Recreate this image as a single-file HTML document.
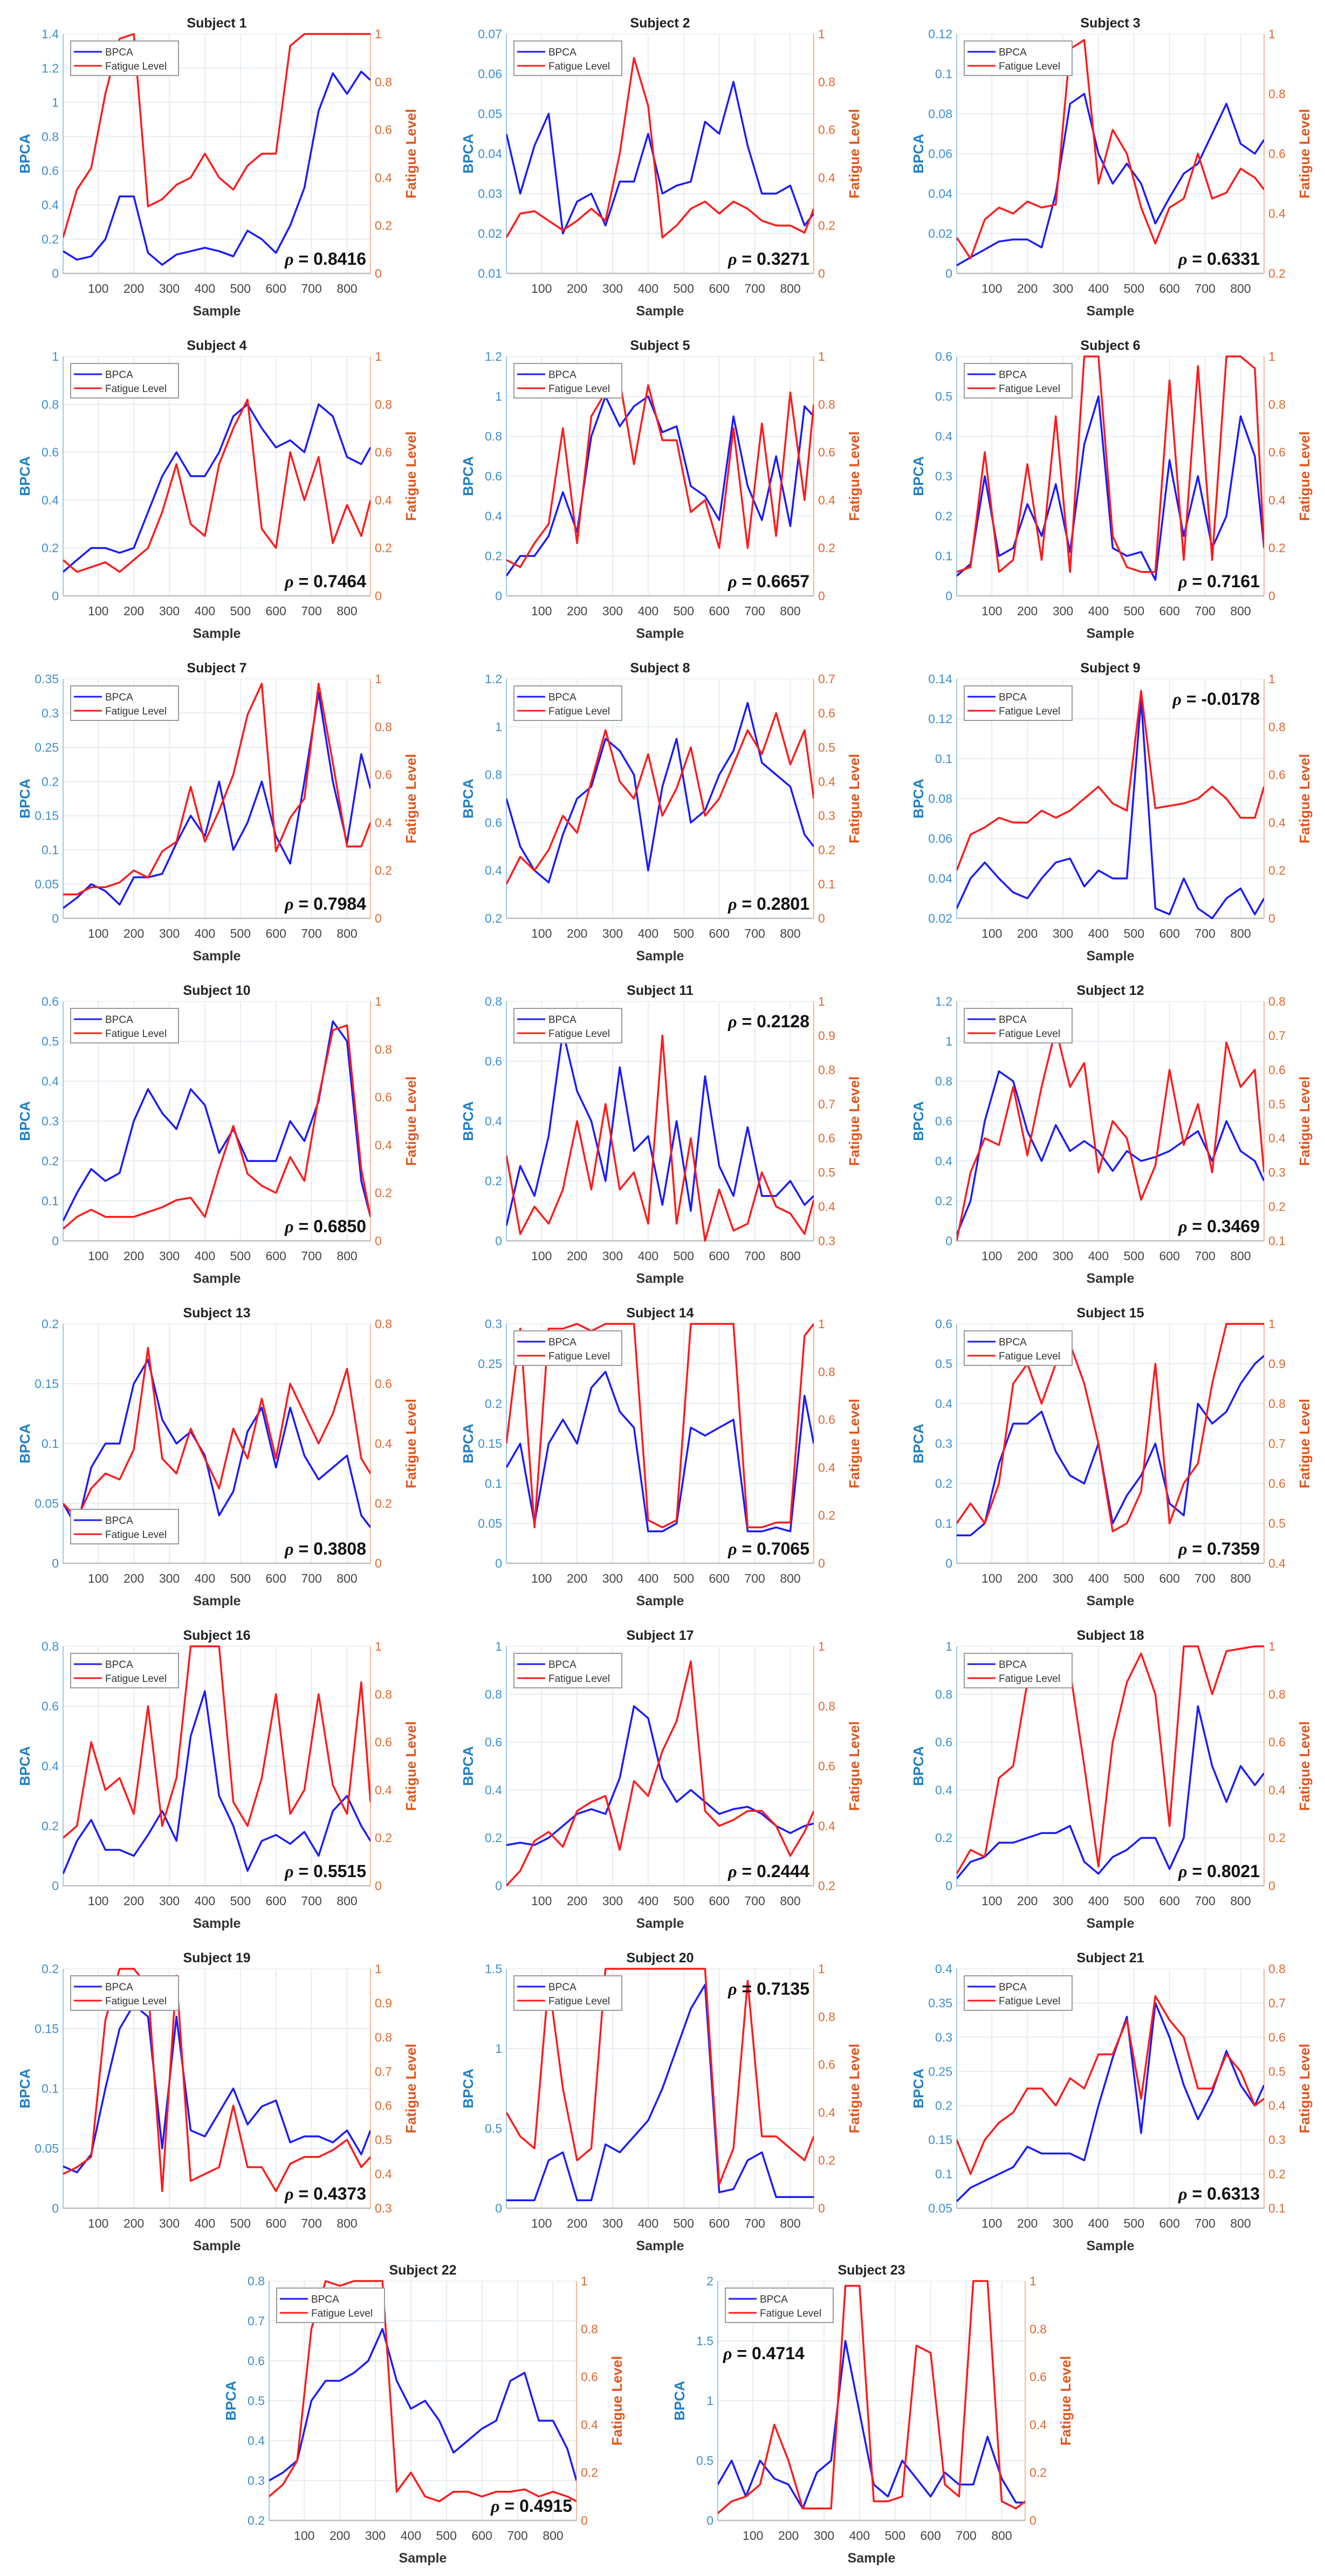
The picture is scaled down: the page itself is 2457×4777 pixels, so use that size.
<!DOCTYPE html>
<html><head><meta charset="utf-8"><title>BPCA vs Fatigue Level</title>
<style>
html,body{margin:0;padding:0;background:#fff;}
svg{display:block;font-family:"Liberation Sans",Arial,sans-serif;}
</style></head>
<body>
<svg id="fig" width="2457" height="4777" viewBox="0 0 2457 4777" xmlns="http://www.w3.org/2000/svg"></svg>
<script>
const sampleGrid = [1,40,80,120,160,200,240,280,320,360,400,440,480,520,560,600,640,680,720,760,800,840,866];
const xTicks = [100,200,300,400,500,600,700,800];

const s1Bpca=[.13,.08,.1,.2,.45,.45,.12,.05,.11,.13,.15,.13,.1,.25,.2,.12,.28,.5,.95,1.17,1.05,1.18,1.13];
const s1Fat=[.15,.35,.44,.75,.98,1,.28,.31,.37,.4,.5,.4,.35,.45,.5,.5,.95,1,1,1,1,1,1];
const s2Bpca=[.045,.03,.042,.05,.02,.028,.03,.022,.033,.033,.045,.03,.032,.033,.048,.045,.058,.042,.03,.03,.032,.022,.025];
const s2Fat=[.15,.25,.26,.22,.18,.22,.27,.22,.5,.9,.7,.15,.2,.27,.3,.25,.3,.27,.22,.2,.2,.17,.27];
const s3Bpca=[.004,.008,.012,.016,.017,.017,.013,.04,.085,.09,.06,.045,.055,.045,.025,.038,.05,.055,.07,.085,.065,.06,.067];
const s3Fat=[.32,.25,.38,.42,.4,.44,.42,.43,.95,.98,.5,.68,.6,.42,.3,.42,.45,.6,.45,.47,.55,.52,.48];
const s4Bpca=[.1,.15,.2,.2,.18,.2,.35,.5,.6,.5,.5,.6,.75,.8,.7,.62,.65,.6,.8,.75,.58,.55,.62];
const s4Fat=[.15,.1,.12,.14,.1,.15,.2,.35,.55,.3,.25,.55,.7,.82,.28,.2,.6,.4,.58,.22,.38,.25,.4];
const s5Bpca=[.1,.2,.2,.3,.52,.32,.8,1,.85,.95,1,.82,.85,.55,.5,.38,.9,.55,.38,.7,.35,.95,.9];
const s5Fat=[.15,.12,.22,.3,.7,.22,.75,.85,.9,.55,.88,.65,.65,.35,.4,.2,.7,.2,.72,.25,.85,.4,.8];
const s6Bpca=[.05,.08,.3,.1,.12,.23,.15,.28,.11,.38,.5,.12,.1,.11,.04,.34,.15,.3,.12,.2,.45,.35,.12];
const s6Fat=[.1,.12,.6,.1,.15,.55,.15,.75,.1,1,1,.25,.12,.1,.1,.9,.15,.96,.15,1,1,.95,.2];
const s7Bpca=[.015,.03,.05,.04,.02,.06,.06,.065,.11,.15,.12,.2,.1,.14,.2,.12,.08,.2,.33,.2,.11,.24,.19];
const s7Fat=[.1,.1,.13,.13,.15,.2,.17,.28,.32,.55,.32,.45,.6,.85,.98,.28,.42,.5,.98,.65,.3,.3,.4];
const s8Bpca=[.7,.5,.4,.35,.55,.7,.75,.95,.9,.8,.4,.75,.95,.6,.65,.8,.9,1.1,.85,.8,.75,.55,.5];
const s8Fat=[.1,.18,.14,.2,.3,.25,.4,.55,.4,.35,.48,.3,.38,.5,.3,.35,.45,.55,.48,.6,.45,.55,.35];
const s9Bpca=[.025,.04,.048,.04,.033,.03,.04,.048,.05,.036,.044,.04,.04,.13,.025,.022,.04,.025,.02,.03,.035,.022,.03];
const s9Fat=[.2,.35,.38,.42,.4,.4,.45,.42,.45,.5,.55,.48,.45,.95,.46,.47,.48,.5,.55,.5,.42,.42,.55];
const s10Bpca=[.05,.12,.18,.15,.17,.3,.38,.32,.28,.38,.34,.22,.28,.2,.2,.2,.3,.25,.35,.55,.5,.15,.06];
const s10Fat=[.05,.1,.13,.1,.1,.1,.12,.14,.17,.18,.1,.3,.48,.28,.23,.2,.35,.25,.6,.88,.9,.3,.1];
const s11Bpca=[.05,.25,.15,.35,.7,.5,.4,.2,.58,.3,.35,.12,.4,.1,.55,.25,.15,.38,.15,.15,.2,.12,.15];
const s11Fat=[.55,.32,.4,.35,.45,.65,.45,.7,.45,.5,.35,.9,.35,.6,.3,.45,.33,.35,.5,.4,.38,.32,.42];
const s12Bpca=[.03,.2,.6,.85,.8,.55,.4,.58,.45,.5,.45,.35,.45,.4,.42,.45,.5,.55,.4,.6,.45,.4,.3];
const s12Fat=[.1,.3,.4,.38,.55,.35,.55,.72,.55,.62,.3,.45,.4,.22,.32,.6,.38,.5,.3,.68,.55,.6,.3];
const s13Bpca=[.05,.03,.08,.1,.1,.15,.17,.12,.1,.11,.09,.04,.06,.11,.13,.08,.13,.09,.07,.08,.09,.04,.03];
const s13Fat=[.2,.15,.25,.3,.28,.38,.72,.35,.3,.45,.35,.25,.45,.35,.55,.35,.6,.5,.4,.5,.65,.35,.3];
const s14Bpca=[.12,.15,.05,.15,.18,.15,.22,.24,.19,.17,.04,.04,.05,.17,.16,.17,.18,.04,.04,.045,.04,.21,.15];
const s14Fat=[.5,.98,.15,.98,.98,1,.97,1,1,1,.18,.15,.18,1,1,1,1,.15,.15,.17,.17,.95,1];
const s15Bpca=[.07,.07,.1,.25,.35,.35,.38,.28,.22,.2,.3,.1,.17,.22,.3,.15,.12,.4,.35,.38,.45,.5,.52];
const s15Fat=[.5,.55,.5,.6,.85,.9,.8,.9,.95,.85,.7,.48,.5,.58,.9,.5,.6,.65,.85,1,1,1,1];
const s16Bpca=[.04,.15,.22,.12,.12,.1,.17,.25,.15,.5,.65,.3,.2,.05,.15,.17,.14,.18,.1,.25,.3,.2,.15];
const s16Fat=[.2,.25,.6,.4,.45,.3,.75,.25,.45,1,1,1,.35,.25,.45,.8,.3,.4,.8,.42,.3,.85,.35];
const s17Bpca=[.17,.18,.17,.2,.25,.3,.32,.3,.45,.75,.7,.45,.35,.4,.35,.3,.32,.33,.3,.25,.22,.25,.26];
const s17Fat=[.2,.25,.35,.38,.33,.45,.48,.5,.32,.55,.5,.65,.75,.95,.45,.4,.42,.45,.45,.4,.3,.38,.45];
const s18Bpca=[.03,.1,.12,.18,.18,.2,.22,.22,.25,.1,.05,.12,.15,.2,.2,.07,.2,.75,.5,.35,.5,.42,.47];
const s18Fat=[.05,.15,.12,.45,.5,.85,.9,.85,.9,.5,.08,.6,.85,.97,.8,.25,1,1,.8,.98,.99,1,1];
const s19Bpca=[.035,.03,.045,.1,.15,.17,.16,.05,.16,.065,.06,.08,.1,.07,.085,.09,.055,.06,.06,.055,.065,.045,.065];
const s19Fat=[.4,.42,.45,.85,1,1,.95,.35,.98,.38,.4,.42,.6,.42,.42,.35,.43,.45,.45,.47,.5,.42,.45];
const s20Bpca=[.05,.05,.05,.3,.35,.05,.05,.4,.35,.45,.55,.75,1,1.25,1.4,.1,.12,.3,.35,.07,.07,.07,.07];
const s20Fat=[.4,.3,.25,.95,.5,.2,.25,1,1,1,1,1,1,1,1,.1,.25,.95,.3,.3,.25,.2,.3];
const s21Bpca=[.06,.08,.09,.1,.11,.14,.13,.13,.13,.12,.2,.27,.33,.16,.35,.3,.23,.18,.22,.28,.23,.2,.23];
const s21Fat=[.3,.2,.3,.35,.38,.45,.45,.4,.48,.45,.55,.55,.65,.42,.72,.65,.6,.45,.45,.55,.5,.4,.42];
const s22Bpca=[.3,.32,.35,.5,.55,.55,.57,.6,.68,.55,.48,.5,.45,.37,.4,.43,.45,.55,.57,.45,.45,.38,.3];
const s22Fat=[.1,.15,.25,.8,1,.98,1,1,1,.12,.2,.1,.08,.12,.12,.1,.12,.12,.13,.1,.12,.1,.08];
const s23Bpca=[.3,.5,.2,.5,.35,.3,.1,.4,.5,1.5,.9,.3,.2,.5,.35,.2,.4,.3,.3,.7,.35,.15,.15];
const s23Fat=[.03,.08,.1,.15,.4,.25,.05,.05,.05,.98,.98,.08,.08,.1,.73,.7,.15,.1,1,1,.08,.05,.08];

const rhoValues=["0.8416","0.3271","0.6331","0.7464","0.6657","0.7161","0.7984","0.2801","-0.0178","0.6850","0.2128","0.3469","0.3808","0.7065","0.7359","0.5515","0.2444","0.8021","0.4373","0.7135","0.6313","0.4915","0.4714"];
const leftTickLabels=[
["0","0.2","0.4","0.6","0.8","1","1.2","1.4"],["0.01","0.02","0.03","0.04","0.05","0.06","0.07"],["0","0.02","0.04","0.06","0.08","0.1","0.12"],
["0","0.2","0.4","0.6","0.8","1"],["0","0.2","0.4","0.6","0.8","1","1.2"],["0","0.1","0.2","0.3","0.4","0.5","0.6"],
["0","0.05","0.1","0.15","0.2","0.25","0.3","0.35"],["0.2","0.4","0.6","0.8","1","1.2"],["0.02","0.04","0.06","0.08","0.1","0.12","0.14"],
["0","0.1","0.2","0.3","0.4","0.5","0.6"],["0","0.2","0.4","0.6","0.8"],["0","0.2","0.4","0.6","0.8","1","1.2"],
["0","0.05","0.1","0.15","0.2"],["0","0.05","0.1","0.15","0.2","0.25","0.3"],["0","0.1","0.2","0.3","0.4","0.5","0.6"],
["0","0.2","0.4","0.6","0.8"],["0","0.2","0.4","0.6","0.8","1"],["0","0.2","0.4","0.6","0.8","1"],
["0","0.05","0.1","0.15","0.2"],["0","0.5","1","1.5"],["0.05","0.1","0.15","0.2","0.25","0.3","0.35","0.4"],
["0.2","0.3","0.4","0.5","0.6","0.7","0.8"],["0","0.5","1","1.5","2"]];
const rightTickLabels=[
["0","0.2","0.4","0.6","0.8","1"],["0","0.2","0.4","0.6","0.8","1"],["0.2","0.4","0.6","0.8","1"],
["0","0.2","0.4","0.6","0.8","1"],["0","0.2","0.4","0.6","0.8","1"],["0","0.2","0.4","0.6","0.8","1"],
["0","0.2","0.4","0.6","0.8","1"],["0","0.1","0.2","0.3","0.4","0.5","0.6","0.7"],["0","0.2","0.4","0.6","0.8","1"],
["0","0.2","0.4","0.6","0.8","1"],["0.3","0.4","0.5","0.6","0.7","0.8","0.9","1"],["0.1","0.2","0.3","0.4","0.5","0.6","0.7","0.8"],
["0","0.2","0.4","0.6","0.8"],["0","0.2","0.4","0.6","0.8","1"],["0.4","0.5","0.6","0.7","0.8","0.9","1"],
["0","0.2","0.4","0.6","0.8","1"],["0.2","0.4","0.6","0.8","1"],["0","0.2","0.4","0.6","0.8","1"],
["0.3","0.4","0.5","0.6","0.7","0.8","0.9","1"],["0","0.2","0.4","0.6","0.8","1"],["0.1","0.2","0.3","0.4","0.5","0.6","0.7","0.8"],
["0","0.2","0.4","0.6","0.8","1"],["0","0.2","0.4","0.6","0.8","1"]];
const bpcaSeries=[s1Bpca,s2Bpca,s3Bpca,s4Bpca,s5Bpca,s6Bpca,s7Bpca,s8Bpca,s9Bpca,s10Bpca,s11Bpca,s12Bpca,s13Bpca,s14Bpca,s15Bpca,s16Bpca,s17Bpca,s18Bpca,s19Bpca,s20Bpca,s21Bpca,s22Bpca,s23Bpca];
const fatigueSeries=[s1Fat,s2Fat,s3Fat,s4Fat,s5Fat,s6Fat,s7Fat,s8Fat,s9Fat,s10Fat,s11Fat,s12Fat,s13Fat,s14Fat,s15Fat,s16Fat,s17Fat,s18Fat,s19Fat,s20Fat,s21Fat,s22Fat,s23Fat];
const rhoPos=["br","br","br","br","br","br","br","br","tr","br","tr","br","br","br","br","br","br","br","br","tr","br","br","tl"];
const legendPos=["tl","tl","tl","tl","tl","tl","tl","tl","tl","tl","tl","tl","bl","tl","tl","tl","tl","tl","tl","tl","tl","tl","tl"];

const NS="http://www.w3.org/2000/svg";
const svg=document.getElementById('fig');
function mk(tag,attrs,parent,text){const e=document.createElementNS(NS,tag);for(const k in attrs)e.setAttribute(k,attrs[k]);if(text!==undefined)e.textContent=text;parent.appendChild(e);return e;}
const W=570,H=444,X0=1,X1=866;
const LBLUE="#3d8fcf",ORANGE="#e2682f";

function layout(i){
  if(i<21){const r=Math.floor(i/3),c=i%3;return {L:[117,939,1774][c],T:63+r*598};}
  return {L:[499,1331][i-21],T:4230};
}

for(let i=0;i<23;i++){
  const {L,T}=layout(i);const R=L+W,B=T+H;
  const g=mk('g',{},svg);
  
  
  const lt=leftTickLabels[i].map(Number),rt=rightTickLabels[i].map(Number);
  const lmin=lt[0],lmax=lt[lt.length-1],rmin=rt[0],rmax=rt[rt.length-1];
  const xs=v=>L+(v-X0)/(X1-X0)*W;
  const yl=v=>B-(v-lmin)/(lmax-lmin)*H;
  const yr=v=>B-(v-rmin)/(rmax-rmin)*H;
  const grid=mk('g',{stroke:"#e6edf3","stroke-width":2},g);
  
  
  xTicks.forEach(t=>mk('line',{x1:xs(t),x2:xs(t),y1:T,y2:B},grid));
  lt.forEach(t=>mk('line',{x1:L,x2:R,y1:yl(t),y2:yl(t)},grid));
  mk('line',{x1:L,x2:R,y1:T,y2:T,stroke:"#eef2f5","stroke-width":2},g);
  const xa=mk('line',{x1:L,x2:R,y1:B,y2:B,stroke:"#bdbdbd","stroke-width":2.5},g);
  
  
  const la=mk('line',{x1:L,x2:L,y1:T,y2:B,stroke:"#9cc8e8","stroke-width":2},g);
  
  
  const ra=mk('line',{x1:R,x2:R,y1:T,y2:B,stroke:"#f2b89a","stroke-width":2},g);
  
  
  xTicks.forEach(t=>{const e=mk('text',{x:xs(t),y:B+36,"text-anchor":"middle","font-size":23,fill:"#444"},g,String(t));
    
    });
  leftTickLabels[i].forEach(s=>{const e=mk('text',{x:L-8,y:yl(Number(s))+8,"text-anchor":"end","font-size":23,fill:LBLUE},g,s);
    
    });
  rightTickLabels[i].forEach(s=>{const e=mk('text',{x:R+8,y:yr(Number(s))+8,"text-anchor":"start","font-size":23,fill:ORANGE},g,s);
    
    });
  const tt=mk('text',{x:L+W/2,y:T-12,"text-anchor":"middle","font-size":25,"font-weight":"bold",fill:"#222"},g,'Subject '+(i+1));
  
  
  const xl=mk('text',{x:L+W/2,y:B+78,"text-anchor":"middle","font-size":25,"font-weight":"bold",fill:"#333"},g,'Sample');
  
  
  const yl1=mk('text',{x:0,y:0,transform:`translate(${L-62},${T+H/2}) rotate(-90)`,"text-anchor":"middle","font-size":26,"font-weight":"bold",fill:"#1f7fc4"},g,'BPCA');
  
  
  const yr1=mk('text',{x:0,y:0,transform:`translate(${R+84},${T+H/2}) rotate(-90)`,"text-anchor":"middle","font-size":26,"font-weight":"bold",fill:"#e0561c"},g,'Fatigue Level');
  
  
  const cid='c'+i;const cp=mk('clipPath',{id:cid},g);mk('rect',{x:L,y:T-2,width:W,height:H+4},cp);
  const pb=sampleGrid.map((x,k)=>xs(x).toFixed(1)+','+yl(bpcaSeries[i][k]).toFixed(1)).join(' ');
  const pf=sampleGrid.map((x,k)=>xs(x).toFixed(1)+','+yr(fatigueSeries[i][k]).toFixed(1)).join(' ');
  const lb=mk('polyline',{points:pb,fill:"none",stroke:"#1a1aff","stroke-width":3.5,"stroke-linejoin":"round","clip-path":`url(#${cid})`},g);
  
  
  const lf=mk('polyline',{points:pf,fill:"none",stroke:"#ff1a1a","stroke-width":3.5,"stroke-linejoin":"round","clip-path":`url(#${cid})`},g);
  
  
  const ly=legendPos[i]==='tl'?T+13:B-100;const lx=L+14;
  const lg=mk('g',{},g);
  
  
  mk('rect',{x:lx,y:ly,width:200,height:64,fill:"#fff",stroke:"#9a9a9a","stroke-width":2},lg);
  mk('line',{x1:lx+6,x2:lx+58,y1:ly+20,y2:ly+20,stroke:"#1a1aff","stroke-width":3},lg);
  mk('line',{x1:lx+6,x2:lx+58,y1:ly+46,y2:ly+46,stroke:"#ff1a1a","stroke-width":3},lg);
  const le1=mk('text',{x:lx+64,y:ly+27,"font-size":19,fill:"#333"},lg,'BPCA');
  
  
  const le2=mk('text',{x:lx+64,y:ly+53,"font-size":19,fill:"#333"},lg,'Fatigue Level');
  
  
  const p=rhoPos[i];let rx,ry,anchor;
  if(p==='br'){rx=R-8;ry=B-16;anchor='end';}
  else if(p==='tr'){rx=R-8;ry=T+48;anchor='end';}
  else {rx=L+10;ry=T+145;anchor='start';}
  const rt2=mk('text',{x:rx,y:ry,"text-anchor":anchor,"font-size":32,"font-weight":"bold",fill:"#111"},g);
  
  
  mk('tspan',{"font-style":"italic","font-family":"Liberation Serif, serif"},rt2,'ρ');
  mk('tspan',{},rt2,' = '+rhoValues[i]);
}
</script>
</body></html>
